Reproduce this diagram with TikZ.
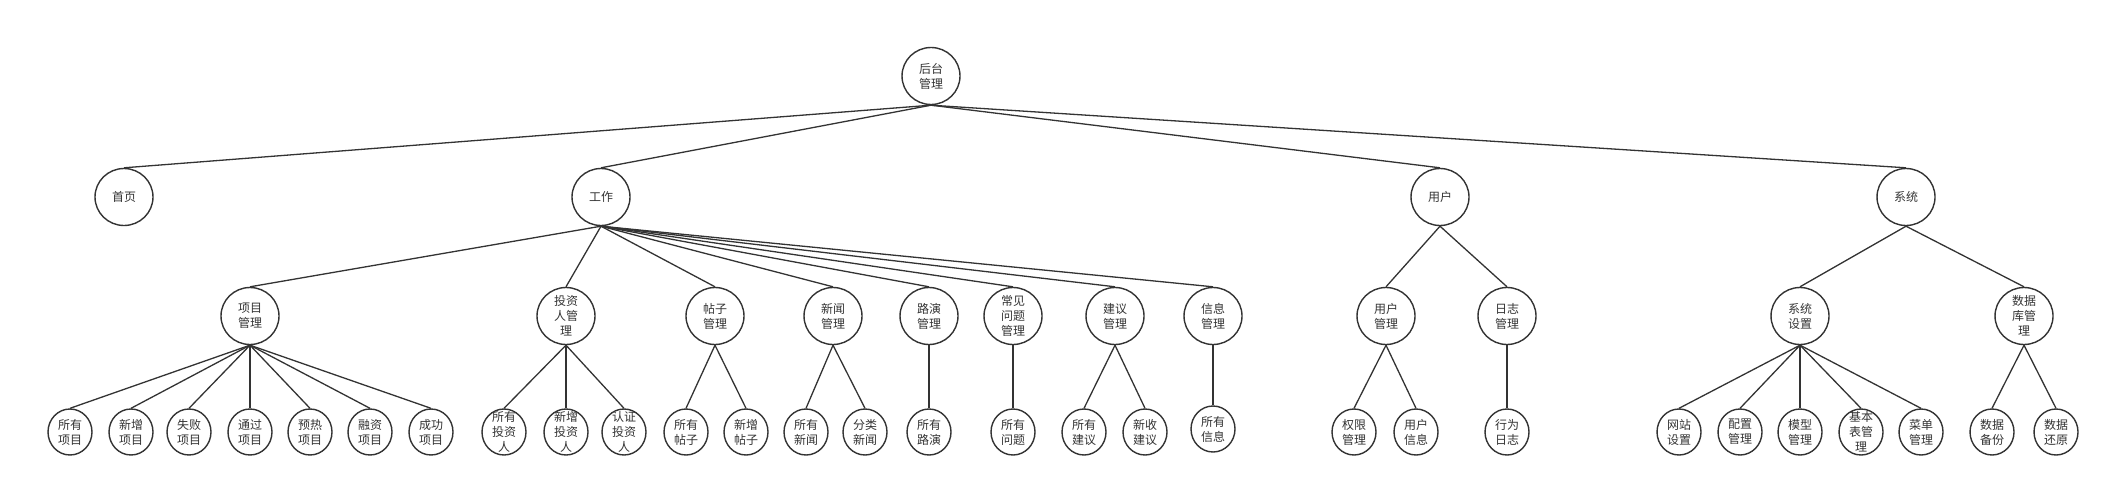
\documentclass[tikz,border=0pt]{standalone}
\usepackage{fontspec}
\newfontfamily\cjk{Noto Sans CJK SC}
\usetikzlibrary{shapes.geometric}
\definecolor{ink}{HTML}{333333}
\tikzset{
  txt/.style={inner sep=0pt, align=center, text=ink, font=\cjk\fontsize{12}{15}\selectfont},
  big/.style={ellipse, draw=ink, line width=1.4pt, minimum width=58pt, minimum height=57pt, inner sep=0pt, txt},
  small/.style={ellipse, draw=ink, line width=1.4pt, minimum width=44pt, minimum height=46pt, inner sep=0pt, txt},
  link/.style={draw=ink, line width=1.3pt}
}
\begin{document}
\begin{tikzpicture}[x=1pt,y=-1pt]
\useasboundingbox (0,0) rectangle (2108,487);
% root
\node[big] (r) at (931,76) {后台\\管理};
% level 1
\node[big] (sy) at (124,197) {首页};
\node[big] (gz) at (601,197) {工作};
\node[big] (yh) at (1440,197) {用户};
\node[big] (xt) at (1906,197) {系统};
% level 2
\node[big] (xmgl) at (250,316) {项目\\管理};
\node[big, label={[txt]center:投资\\人管\\理}] (tzr) at (566,316) {};
\node[big] (tz) at (715,316) {帖子\\管理};
\node[big] (xw) at (833,316) {新闻\\管理};
\node[big] (ly) at (929,316) {路演\\管理};
\node[big, label={[txt]center:常见\\问题\\管理}] (cj) at (1013,316) {};
\node[big] (jy) at (1115,316) {建议\\管理};
\node[big] (xx) at (1213,316) {信息\\管理};
\node[big] (yhgl) at (1386,316) {用户\\管理};
\node[big] (rz) at (1507,316) {日志\\管理};
\node[big] (xtsz) at (1800,316) {系统\\设置};
\node[big, label={[txt]center:数据\\库管\\理}] (sjk) at (2024,316) {};
% level 3
\node[small] (a1) at (70,432) {所有\\项目};
\node[small] (a2) at (131,432) {新增\\项目};
\node[small] (a3) at (189,432) {失败\\项目};
\node[small] (a4) at (250,432) {通过\\项目};
\node[small] (a5) at (310,432) {预热\\项目};
\node[small] (a6) at (370,432) {融资\\项目};
\node[small] (a7) at (431,432) {成功\\项目};
\node[small, label={[txt]center:所有\\投资\\人}] (b1) at (504,432) {};
\node[small, label={[txt]center:新增\\投资\\人}] (b2) at (566,432) {};
\node[small, label={[txt]center:认证\\投资\\人}] (b3) at (624,432) {};
\node[small] (c1) at (686,432) {所有\\帖子};
\node[small] (c2) at (746,432) {新增\\帖子};
\node[small] (d1) at (806,432) {所有\\新闻};
\node[small] (d2) at (865,432) {分类\\新闻};
\node[small] (e1) at (929,432) {所有\\路演};
\node[small] (f1) at (1013,432) {所有\\问题};
\node[small] (g1) at (1084,432) {所有\\建议};
\node[small] (g2) at (1145,432) {新收\\建议};
\node[small] (h1) at (1213,429) {所有\\信息};
\node[small] (i1) at (1354,432) {权限\\管理};
\node[small] (i2) at (1416,432) {用户\\信息};
\node[small] (j1) at (1507,432) {行为\\日志};
\node[small] (k1) at (1679,432) {网站\\设置};
\node[small] (k2) at (1740,432) {配置\\管理};
\node[small] (k3) at (1800,432) {模型\\管理};
\node[small, label={[txt]center:基本\\表管\\理}] (k4) at (1861,432) {};
\node[small] (k5) at (1921,432) {菜单\\管理};
\node[small] (m1) at (1992,432) {数据\\备份};
\node[small] (m2) at (2056,432) {数据\\还原};
% connectors
\foreach \c in {sy,gz,yh,xt} \draw[link] (r.south) -- (\c.north);
\foreach \c in {xmgl,tzr,tz,xw,ly,cj,jy,xx} \draw[link] (gz.south) -- (\c.north);
\foreach \c in {yhgl,rz} \draw[link] (yh.south) -- (\c.north);
\foreach \c in {xtsz,sjk} \draw[link] (xt.south) -- (\c.north);
\foreach \c in {a1,a2,a3,a4,a5,a6,a7} \draw[link] (xmgl.south) -- (\c.north);
\foreach \c in {b1,b2,b3} \draw[link] (tzr.south) -- (\c.north);
\foreach \c in {c1,c2} \draw[link] (tz.south) -- (\c.north);
\foreach \c in {d1,d2} \draw[link] (xw.south) -- (\c.north);
\draw[link] (ly.south) -- (e1.north);
\draw[link] (cj.south) -- (f1.north);
\foreach \c in {g1,g2} \draw[link] (jy.south) -- (\c.north);
\draw[link] (xx.south) -- (h1.north);
\foreach \c in {i1,i2} \draw[link] (yhgl.south) -- (\c.north);
\draw[link] (rz.south) -- (j1.north);
\foreach \c in {k1,k2,k3,k4,k5} \draw[link] (xtsz.south) -- (\c.north);
\foreach \c in {m1,m2} \draw[link] (sjk.south) -- (\c.north);
\end{tikzpicture}
\end{document}
